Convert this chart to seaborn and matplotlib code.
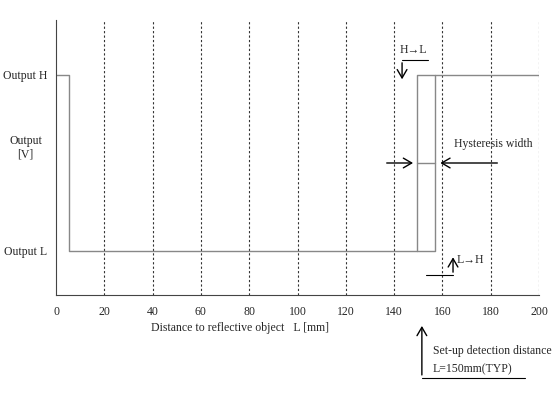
import matplotlib
matplotlib.use("Agg")
import matplotlib.pyplot as plt
import seaborn as sns
import pandas as pd

sns.set_style("white")
plt.rcParams['font.family'] = ['Liberation Serif', 'DejaVu Serif']

# data
trace_x = [0, 5.4, 5.4, 157, 157]
trace_y = [1, 1, 0, 0, 1]
trace2_x = [149.5, 149.5, 200]
trace2_y = [0, 1, 1]
xticks = [0, 20, 40, 60, 80, 100, 120, 140, 160, 180, 200]
ylevels = [1, 0.6, 0]
ylabels = ["Output H", "Output\n[V]", "Output L"]

fig = plt.figure(figsize=(5.6, 4), dpi=100)
ax = fig.add_axes([0.1, 0.2625, 0.8625, 0.6875])
fs = 8.5
g = "#888888"
sns.lineplot(data=pd.DataFrame({"x": trace_x, "y": trace_y}), x="x", y="y", sort=False,
             ax=ax, color=g, lw=1, estimator=None)
sns.lineplot(data=pd.DataFrame({"x": trace2_x, "y": trace2_y}), x="x", y="y", sort=False,
             ax=ax, color=g, lw=1, estimator=None)
ax.plot([149.5, 157], [0.5, 0.5], color=g, lw=1)
for xv in xticks[1:]:
    ax.axvline(xv, color="#333333", lw=0.8, ls=(0, (2, 2)), zorder=0)
ax.set_xlim(0, 200)
ax.set_ylim(-0.25, 1.3125)
ax.set_xticks(xticks)
ax.set_xticklabels([str(v) for v in xticks], fontsize=fs)
ax.set_yticks(ylevels)
ax.set_yticklabels(ylabels, fontsize=fs, ha="center")
ax.tick_params(axis="y", length=0, pad=22)
ax.tick_params(axis="x", length=3, direction="in", pad=8)
for s in ["top", "right"]:
    ax.spines[s].set_visible(False)
for s in ["left", "bottom"]:
    ax.spines[s].set_color("#444444")
ax.set_xlabel(""); ax.set_ylabel("")
ax.text(76, -0.438, "Distance to reflective object   L [mm]", fontsize=fs, ha="center", va="center", clip_on=False)

ak = dict(arrowstyle="->,head_length=0.6,head_width=0.35", color="black", lw=1)
# hysteresis arrows
ax.annotate("", xy=(149, 0.5), xytext=(135.8, 0.5), arrowprops=ak)
ax.annotate("", xy=(158, 0.5), xytext=(183.9, 0.5), arrowprops=ak)
ax.text(164.8, 0.574, "Hysteresis width", fontsize=fs, ha="left", va="bottom")
# H->L
ax.text(142.4, 1.14, "H→L", fontsize=fs, ha="left", va="center")
ax.plot([143.3, 154], [1.085, 1.085], color="black", lw=0.8)
ax.annotate("", xy=(143.3, 0.96), xytext=(143.3, 1.085), arrowprops=ak)
# L->H
ax.plot([153.2, 164.4], [-0.136, -0.136], color="black", lw=0.8, clip_on=False)
ax.annotate("", xy=(164.4, -0.02), xytext=(164.4, -0.136), arrowprops=ak, annotation_clip=False)
ax.text(166, -0.05, "L→H", fontsize=fs, ha="left", va="center")
# set-up arrow
ax.plot([151.5, 194], [-0.72, -0.72], color="black", lw=0.8, clip_on=False)
ax.annotate("", xy=(151.5, -0.41), xytext=(151.5, -0.72), arrowprops=ak, annotation_clip=False)
ax.text(156, -0.57, "Set-up detection distance", fontsize=fs, ha="left", va="center", clip_on=False)
ax.text(156, -0.67, "L=150mm(TYP)", fontsize=fs, ha="left", va="center", clip_on=False)

fig.savefig("out.png", dpi=100)
